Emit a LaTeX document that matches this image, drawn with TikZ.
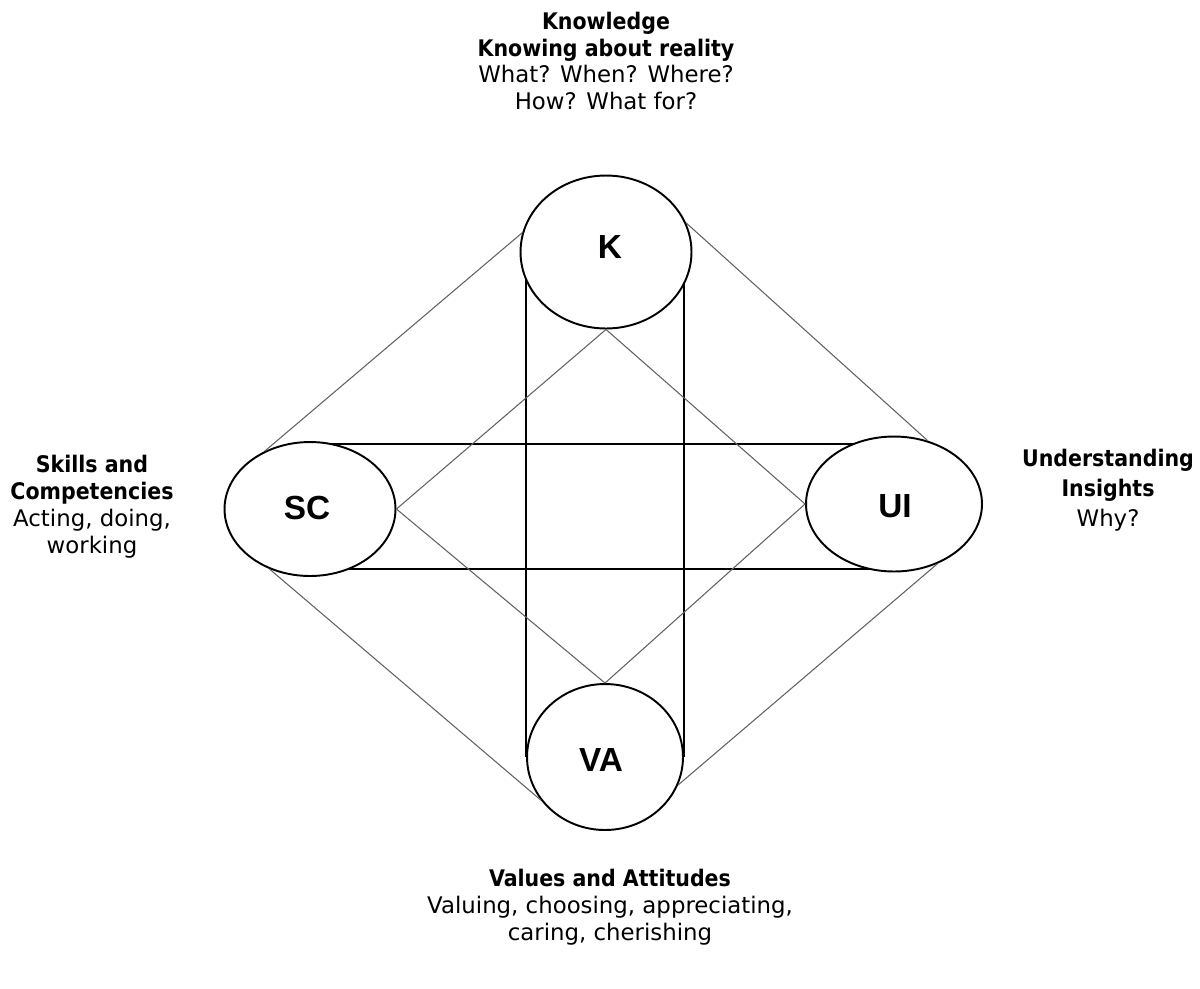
\documentclass[tikz,border=0pt]{standalone}
\usepackage{fontspec}
\setmainfont{DejaVu Sans}
\newfontfamily\hdfont{DejaVu Sans Condensed}
\newfontfamily\ellfont{Liberation Sans}
\usetikzlibrary{shapes.geometric}
\begin{document}
\begin{tikzpicture}[x=0.02cm,y=-0.02cm,
  oval/.style={ellipse,draw=black,line width=1.1pt,fill=white,inner sep=0pt},
  otxt/.style={inner sep=0pt,font=\ellfont\fontsize{19}{22}\selectfont\bfseries},
  frame/.style={draw=black,line width=0.9pt},
  thin/.style={draw=black!62,line width=0.6pt},
  lbl/.style={align=center,inner sep=0pt,font=\fontsize{13}{15.3}\selectfont}]
\useasboundingbox (0,0) rectangle (1200,988);
% coordinates for frame lines
\coordinate (t1) at (526,252);
\coordinate (b1) at (526,757);
\coordinate (t2) at (684,252);
\coordinate (b2) at (684,757);
\coordinate (l1) at (310,444);
\coordinate (r1) at (894,444);
\coordinate (l2) at (310,569);
\coordinate (r2) at (894,569);
\draw[frame] (t1) -- (b1);
\draw[frame] (t2) -- (b2);
\draw[frame] (l1) -- (r1);
\draw[frame] (l2) -- (r2);
% ellipses
\node[oval,minimum width=3.42cm,minimum height=3.06cm] (K) at (606,252) {};
\node[oval,minimum width=3.42cm,minimum height=2.68cm] (SC) at (310,509) {};
\node[oval,minimum width=3.52cm,minimum height=2.70cm] (UI) at (894,504) {};
\node[oval,minimum width=3.12cm,minimum height=2.92cm] (VA) at (605,757) {};
% labels inside
\node[otxt] (Kt) at (610,247) {K};
\node[otxt] (SCt) at (307,508) {SC};
\node[otxt] (UIt) at (895,506) {UI};
\node[otxt] (VAt) at (601,760) {VA};
% outer diamond
\draw[thin] (K.167) -- (SC.128);
\draw[thin] (K.20) -- (UI.62);
\draw[thin] (SC.-124) -- (VA.-146);
\draw[thin] (UI.-54) -- (VA.-21);
% inner diamond
\draw[thin] (K.south) -- (SC.east);
\draw[thin] (K.south) -- (UI.west);
\draw[thin] (VA.north) -- (SC.east);
\draw[thin] (VA.north) -- (UI.west);
% outside labels
\node[lbl] (Klab) at (606,61) {{\hdfont\bfseries Knowledge}\\{\hdfont\bfseries Knowing about reality}\\What? When? Where?\\How? What for?};
\node[lbl] (SClab) at (92,507) {{\hdfont\bfseries Skills and}\\{\hdfont\bfseries Competencies}\\Acting, doing,\\working};
\node[lbl,font=\fontsize{13}{17}\selectfont] (UIlab) at (1108,490) {{\hdfont\bfseries Understanding}\\{\hdfont\bfseries Insights}\hspace*{0.3cm}\\Why?};
\node[lbl] (VAlab) at (610,907) {{\hdfont\bfseries Values and Attitudes}\\Valuing, choosing, appreciating,\\caring, cherishing};
\end{tikzpicture}
\end{document}
